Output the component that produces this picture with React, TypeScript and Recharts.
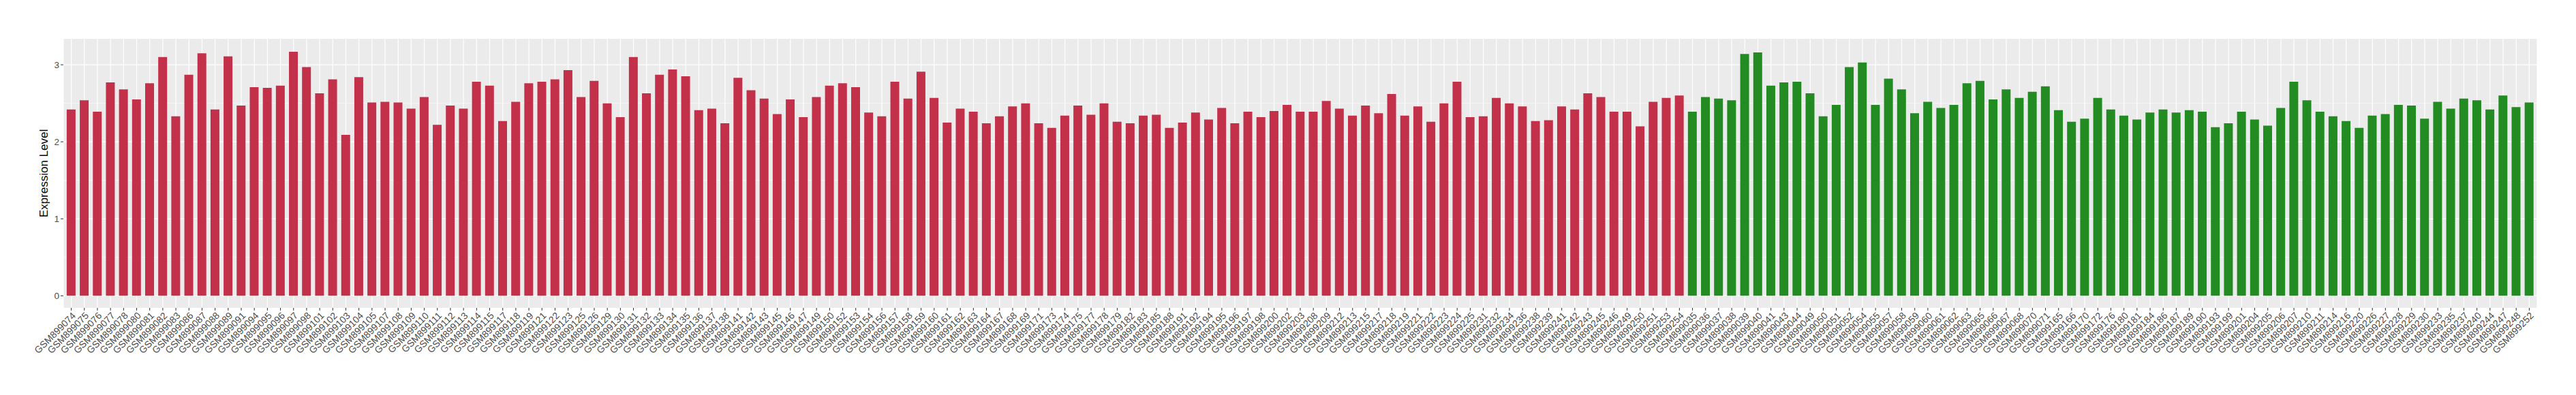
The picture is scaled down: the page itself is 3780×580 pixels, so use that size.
import React from "react";
import { BarChart, Bar, XAxis, YAxis, CartesianGrid, Cell } from "recharts";

const redSamples = [
  "GSM899074", "GSM899075", "GSM899076", "GSM899077", "GSM899078", "GSM899080", "GSM899081", "GSM899082",
  "GSM899083", "GSM899086", "GSM899087", "GSM899088", "GSM899089", "GSM899091", "GSM899094", "GSM899095",
  "GSM899096", "GSM899097", "GSM899098", "GSM899101", "GSM899102", "GSM899103", "GSM899104", "GSM899105",
  "GSM899107", "GSM899108", "GSM899109", "GSM899110", "GSM899111", "GSM899112", "GSM899113", "GSM899114",
  "GSM899115", "GSM899117", "GSM899118", "GSM899119", "GSM899121", "GSM899122", "GSM899123", "GSM899125",
  "GSM899126", "GSM899129", "GSM899130", "GSM899131", "GSM899132", "GSM899133", "GSM899134", "GSM899135",
  "GSM899136", "GSM899137", "GSM899138", "GSM899141", "GSM899142", "GSM899143", "GSM899145", "GSM899146",
  "GSM899147", "GSM899149", "GSM899150", "GSM899152", "GSM899153", "GSM899154", "GSM899156", "GSM899157",
  "GSM899158", "GSM899159", "GSM899160", "GSM899161", "GSM899162", "GSM899163", "GSM899164", "GSM899167",
  "GSM899168", "GSM899169", "GSM899171", "GSM899173", "GSM899174", "GSM899175", "GSM899177", "GSM899178",
  "GSM899179", "GSM899182", "GSM899183", "GSM899185", "GSM899188", "GSM899191", "GSM899192", "GSM899194",
  "GSM899195", "GSM899196", "GSM899197", "GSM899198", "GSM899200", "GSM899202", "GSM899203", "GSM899208",
  "GSM899209", "GSM899212", "GSM899213", "GSM899215", "GSM899217", "GSM899218", "GSM899219", "GSM899221",
  "GSM899222", "GSM899223", "GSM899224", "GSM899225", "GSM899231", "GSM899232", "GSM899234", "GSM899236",
  "GSM899238", "GSM899239", "GSM899241", "GSM899242", "GSM899243", "GSM899245", "GSM899246", "GSM899249",
  "GSM899250", "GSM899251", "GSM899253", "GSM899254",
];

const redValues = [
  2.42, 2.54, 2.39, 2.77, 2.68, 2.55, 2.76, 3.1, 2.33, 2.87, 3.15, 2.42, 3.11, 2.47, 2.71, 2.7,
  2.73, 3.17, 2.97, 2.63, 2.81, 2.09, 2.84, 2.51, 2.52, 2.51, 2.43, 2.58, 2.22, 2.47, 2.43, 2.78,
  2.73, 2.27, 2.52, 2.76, 2.78, 2.81, 2.93, 2.58, 2.79, 2.5, 2.32, 3.1, 2.63, 2.87, 2.94, 2.85,
  2.41, 2.43, 2.24, 2.83, 2.67, 2.56, 2.36, 2.55, 2.32, 2.58, 2.73, 2.76, 2.71, 2.38, 2.33, 2.78,
  2.56, 2.91, 2.57, 2.25, 2.43, 2.39, 2.24, 2.33, 2.46, 2.5, 2.24, 2.18, 2.34, 2.47, 2.35, 2.5,
  2.26, 2.24, 2.34, 2.35, 2.18, 2.25, 2.38, 2.29, 2.44, 2.24, 2.39, 2.32, 2.4, 2.48, 2.39, 2.39,
  2.53, 2.43, 2.34, 2.47, 2.37, 2.62, 2.34, 2.46, 2.26, 2.5, 2.78, 2.32, 2.33, 2.57, 2.5, 2.46,
  2.27, 2.28, 2.46, 2.42, 2.63, 2.58, 2.39, 2.39, 2.2, 2.52, 2.57, 2.6,
];

const greenSamples = [
  "GSM899035", "GSM899036", "GSM899037", "GSM899038", "GSM899039", "GSM899040", "GSM899041", "GSM899043",
  "GSM899044", "GSM899049", "GSM899050", "GSM899051", "GSM899052", "GSM899054", "GSM899055", "GSM899057",
  "GSM899058", "GSM899059", "GSM899060", "GSM899061", "GSM899062", "GSM899063", "GSM899065", "GSM899066",
  "GSM899067", "GSM899068", "GSM899070", "GSM899071", "GSM899165", "GSM899166", "GSM899170", "GSM899172",
  "GSM899176", "GSM899180", "GSM899181", "GSM899184", "GSM899186", "GSM899187", "GSM899189", "GSM899190",
  "GSM899193", "GSM899199", "GSM899201", "GSM899204", "GSM899205", "GSM899206", "GSM899207", "GSM899210",
  "GSM899211", "GSM899214", "GSM899216", "GSM899220", "GSM899226", "GSM899227", "GSM899228", "GSM899229",
  "GSM899230", "GSM899233", "GSM899235", "GSM899237", "GSM899240", "GSM899244", "GSM899247", "GSM899248",
  "GSM899252",
];

const greenValues = [
  2.39, 2.58, 2.56, 2.54, 3.14, 3.16, 2.73, 2.77, 2.78, 2.63, 2.33, 2.48, 2.97, 3.03, 2.48, 2.82,
  2.68, 2.37, 2.52, 2.44, 2.48, 2.76, 2.79, 2.55, 2.68, 2.57, 2.65, 2.72, 2.41, 2.26, 2.3, 2.57,
  2.42, 2.34, 2.29, 2.38, 2.42, 2.38, 2.41, 2.39, 2.19, 2.24, 2.39, 2.29, 2.21, 2.44, 2.78, 2.54,
  2.39, 2.33, 2.27, 2.18, 2.34, 2.36, 2.48, 2.47, 2.3, 2.52, 2.43, 2.56, 2.54, 2.42, 2.6, 2.45,
  2.51,
];

const yTicks = [0, 1, 2, 3];
const yMinor = [0.5, 1.5, 2.5];

const RED = "#C3304A";
const GREEN = "#228B22";
const FONT = "'Liberation Sans', Arial, Helvetica, sans-serif";

const rows = [
  ...redSamples.map((s, i) => ({ sample: s, value: redValues[i], color: RED })),
  ...greenSamples.map((s, i) => ({ sample: s, value: greenValues[i], color: GREEN })),
];

function SampleTick(props: any) {
  const { x, y, payload } = props;
  return (
    <text
      x={x}
      y={y}
      textAnchor="end"
      dominantBaseline="hanging"
      transform={`rotate(-45 ${x} ${y})`}
      fontSize={14}
      fill="#4D4D4D"
      fontFamily={FONT}
    >
      {payload.value}
    </text>
  );
}

export default function App() {
  return (
    <div style={{ position: "absolute", left: 0, top: 0, width: 3780, height: 580, background: "#fff" }}>
      <BarChart
        width={3780}
        height={580}
        data={rows}
        margin={{ top: 57, right: 57, bottom: 0, left: 0 }}
        barCategoryGap="15%"
      >
        {/* panel background + minor gridlines */}
        <CartesianGrid
          fill="#EBEBEB"
          stroke="#FFFFFF"
          strokeWidth={0.6}
          vertical={false}
          horizontalValues={yMinor}
        />
        <CartesianGrid stroke="#FFFFFF" strokeWidth={1.2} horizontalValues={yTicks} />
        <XAxis
          dataKey="sample"
          interval={0}
          height={128}
          padding={{ left: 2, right: 2 }}
          axisLine={false}
          tickLine={{ stroke: "#333333" }}
          tickSize={4}
          tickMargin={1}
          tick={<SampleTick />}
        />
        <YAxis
          width={93}
          type="number"
          domain={[-0.156, 3.337]}
          allowDataOverflow
          ticks={yTicks}
          axisLine={false}
          tickLine={{ stroke: "#333333" }}
          tickSize={4}
          tickMargin={2}
          tick={{ fill: "#4D4D4D", fontSize: 13.5, fontFamily: FONT }}
          label={{
            value: "Expression Level",
            angle: -90,
            position: "insideLeft",
            offset: 64,
            style: { textAnchor: "middle", fontSize: 17, fill: "#000000", fontFamily: FONT },
          }}
        />
        <Bar dataKey="value" isAnimationActive={false}>
          {rows.map((r) => (
            <Cell key={r.sample} fill={r.color} />
          ))}
        </Bar>
      </BarChart>
    </div>
  );
}
